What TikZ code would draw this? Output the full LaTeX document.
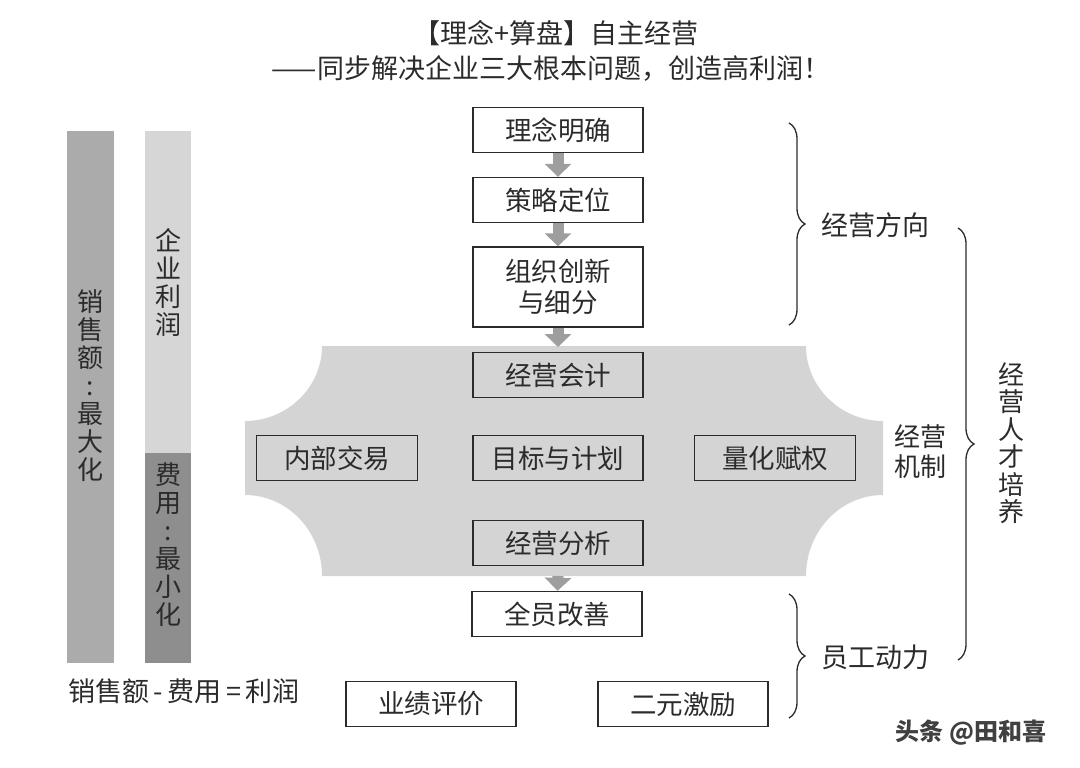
\documentclass[tikz,border=0pt]{standalone}
\usepackage{fontspec}
\setmainfont{Noto Sans CJK SC}
\usepackage{tikz}
\usetikzlibrary{positioning, arrows.meta, decorations.pathreplacing, calc}
\definecolor{mechgray}{HTML}{D4D4D4}
\definecolor{arrowgray}{HTML}{9E9E9E}
\definecolor{salesgray}{HTML}{ABABAB}
\definecolor{profitgray}{HTML}{D6D6D6}
\definecolor{costgray}{HTML}{8E8E8E}
\definecolor{inkgray}{HTML}{2B2B2B}

\begin{document}
\begin{tikzpicture}[x=1pt, y=-1pt,
	box/.style={draw=inkgray, line width=1.4pt, minimum width=170pt, minimum height=45pt, inner sep=0pt, align=center, font=\fontsize{26.5}{31}\selectfont, text=inkgray},
	blockarrow/.style={arrowgray, line width=11pt, -{Triangle[width=26pt, length=13pt]}},
	bracket/.style={decorate, decoration={brace, amplitude=16pt}, draw=inkgray, line width=1.3pt},
	lbl/.style={font=\fontsize{27}{31}\selectfont, text=inkgray},
	vlbl/.style={font=\fontsize{26}{28}\selectfont, text=inkgray, align=center, inner sep=0pt}]
	\useasboundingbox (0,0) rectangle (1080,768);

	% title
	\node[lbl] (title) at (556,33) {【理念+算盘】自主经营};
	\node[lbl] (subtitle) at (551,68) {——同步解决企业三大根本问题，创造高利润！};

	% bars on the left
	\fill[salesgray] (67,131) rectangle (114,663);
	\fill[profitgray] (145,131) rectangle (191,453);
	\fill[costgray] (145,453) rectangle (191,663);
	\node[vlbl] (xiaoshou) at (90.5,386) {销\\售\\额\\:\\最\\大\\化};
	\node[vlbl] (lirun) at (168,282) {企\\业\\利\\润};
	\node[vlbl] (feiyong) at (168,545) {费\\用\\:\\最\\小\\化};
	\node[lbl] (gongshi) at (184,691) {销售额\,-\,费用\,=\,利润};

	% mechanism area
	\fill[mechgray] (322,346) -- (806,346)
		.. controls (806,387) and (840.5,421) .. (883,421) -- (883,495)
		.. controls (840.5,495) and (806,531) .. (806,576) -- (322,576)
		.. controls (322,531) and (287.5,495) .. (245,495) -- (245,421)
		.. controls (287.5,421) and (322,387) .. (322,346) -- cycle;

	\node[box] (linian) at (558,130) {理念明确};
	\node[box] (celue) at (558,200) {策略定位};
	\node[box, minimum height=80pt] (zuzhi) at (558,287) {组织创新\\与细分};
	\node[box] (kuaiji) at (558,375) {经营会计};
	\node[box, minimum width=161pt] (jiaoyi) at (337,458) {内部交易};
	\node[box] (jihua) at (558,458) {目标与计划};
	\node[box, minimum width=161pt] (fuquan) at (775,458) {量化赋权};
	\node[box] (fenxi) at (558,543) {经营分析};
	\node[box] (gaishan) at (557,614) {全员改善};
	\node[box] (pingjia) at (431,704) {业绩评价};
	\node[box] (jili) at (683,704) {二元激励};

	\coordinate (mechtop) at (558,347);
	\coordinate (mechbot) at (558,576);
	\draw[blockarrow] (linian) -- (celue);
	\draw[blockarrow] (celue) -- (zuzhi);
	\draw[blockarrow] (zuzhi) -- (mechtop);
	\draw[blockarrow] (mechbot) -- (gaishan);

	% braces
	\coordinate (b1top) at (789,123);
	\coordinate (b1bot) at (789,325);
	\coordinate (b2top) at (958,228);
	\coordinate (b2bot) at (958,660);
	\coordinate (b3top) at (789,594);
	\coordinate (b3bot) at (789,718);
	\draw[bracket] (b1top) -- (b1bot);
	\draw[bracket] (b2top) -- (b2bot);
	\draw[bracket] (b3top) -- (b3bot);
	\node[lbl, anchor=west] (fangxiang) at (818,225) {经营方向};
	\node[lbl, anchor=west] (dongli) at (818,657) {员工动力};
	\node[lbl, align=center, font=\fontsize{26}{30}\selectfont] (jizhi) at (920,452) {经营\\机制};
	\node[vlbl, font=\fontsize{26}{27.5}\selectfont] (rencai) at (1011,443) {经\\营\\人\\才\\培\\养};

	\node[font=\fontsize{24}{28}\selectfont\bfseries, text=black!75] (mark) at (971,733) {头条 @田和喜};
\end{tikzpicture}
\end{document}
